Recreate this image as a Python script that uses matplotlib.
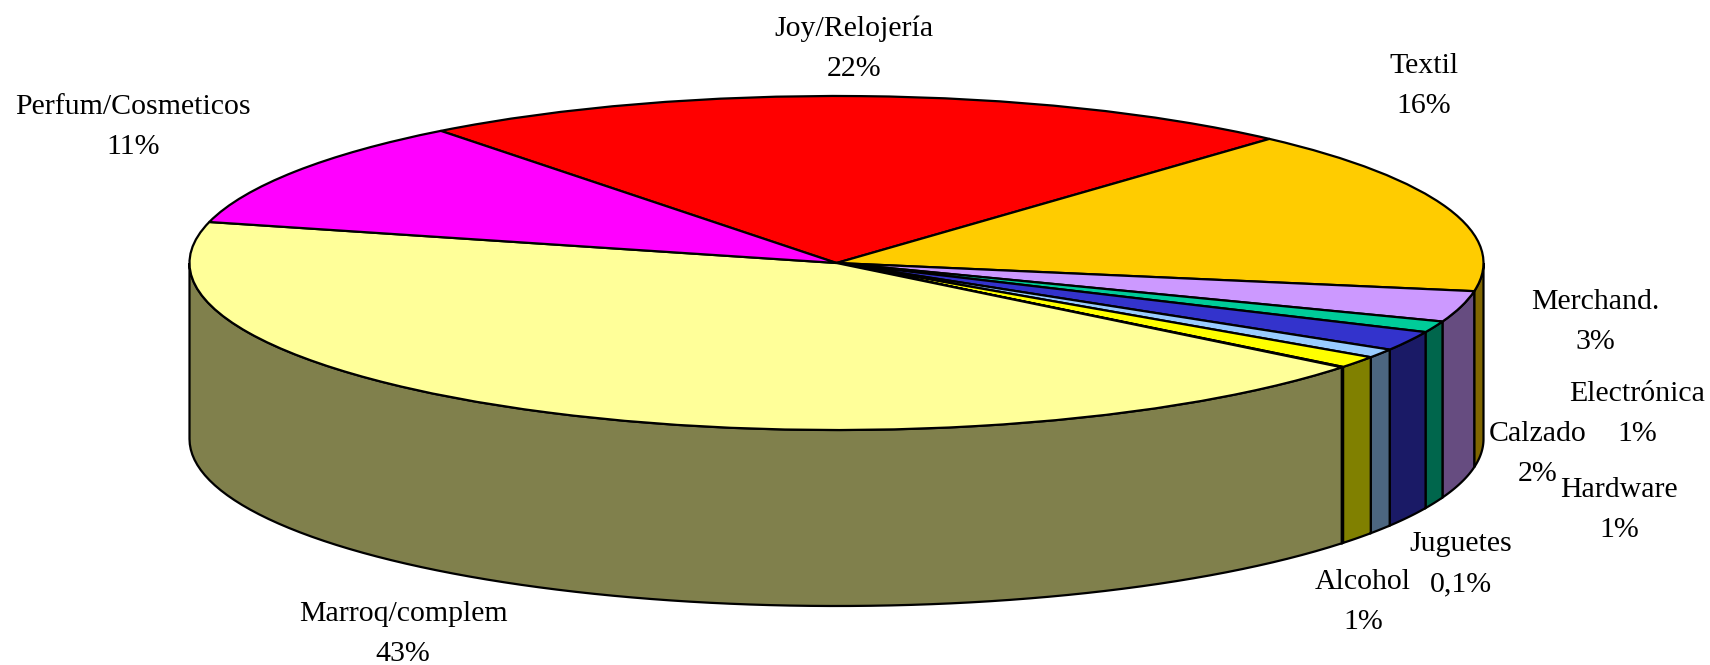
import numpy as np
import matplotlib
matplotlib.use('Agg')
import matplotlib.pyplot as plt

plt.rcParams['font.family'] = ['Liberation Serif', 'DejaVu Serif']

# clockwise from the top, values
categories = ['Joy/Relojería', 'Textil', 'Merchand.', 'Electrónica', 'Calzado',
              'Hardware', 'Alcohol', 'Juguetes', 'Marroq/complem', 'Perfum/Cosmeticos']
values = [22.14, 16.03, 3.0, 1.09, 1.89, 0.86, 1.15, 0.05, 43.21, 10.58]
pct_labels = ['22%', '16%', '3%', '1%', '2%', '1%', '1%', '0,1%', '43%', '11%']

top_colors = ['#FF0000', '#FFCC00', '#CC99FF', '#00CC99', '#3333CC',
              '#99CCFF', '#FFFF00', '#000080', '#FFFF99', '#FF00FF']
side_colors = ['#800000', '#806600', '#664C80', '#00664C', '#1A1A66',
               '#4C6680', '#808000', '#000040', '#80804C', '#800080']

# label centres in pixels of the 1710x665 picture
label_x = [854, 1424, 1595, 1637, 1538, 1619, 1363, 1461, 403, 133]
label_y = [49, 86, 322, 414, 454, 510, 602, 564, 634, 127]

start_angle = 127.7
cx, cy, rx, ry, depth = 836.5, 263, 647, 167, 176
W, H = 1710, 665
lw = 1.6

fig = plt.figure(figsize=(W / 100, H / 100), dpi=100)
ax = fig.add_axes([0, 0, 1, 1])

ax.pie(values, colors=top_colors, startangle=start_angle, counterclock=False,
       wedgeprops={'edgecolor': 'black', 'linewidth': lw, 'zorder': 3})
ax.set_aspect('auto')
ax.set_xlim(-cx / rx, (W - cx) / rx)
ax.set_ylim(-(H - cy) / ry, cy / ry)

# side wall, only the front half of the pie shows it
d = depth / ry
shares = np.array(values) / sum(values) * 360
ends = start_angle - np.cumsum(shares)
starts = ends + shares
for a0, a1, col in zip(starts, ends, side_colors):
    for shift in (0, -360):
        hi = min(a0 + shift, 0)
        lo = max(a1 + shift, -180)
        if hi <= lo:
            continue
        t = np.radians(np.linspace(hi, lo, 80))
        xs = np.concatenate([np.cos(t), np.cos(t[::-1])])
        ys = np.concatenate([np.sin(t), np.sin(t[::-1]) - d])
        ax.fill(xs, ys, facecolor=col, edgecolor='black', linewidth=lw, zorder=2)

for name, pct, x, y in zip(categories, pct_labels, label_x, label_y):
    fig.text(x / W, 1 - y / H, name + '\n' + pct, ha='center', va='center',
             fontsize=21.5, linespacing=1.72, color='black', zorder=5)

fig.savefig('out.png', dpi=100)
